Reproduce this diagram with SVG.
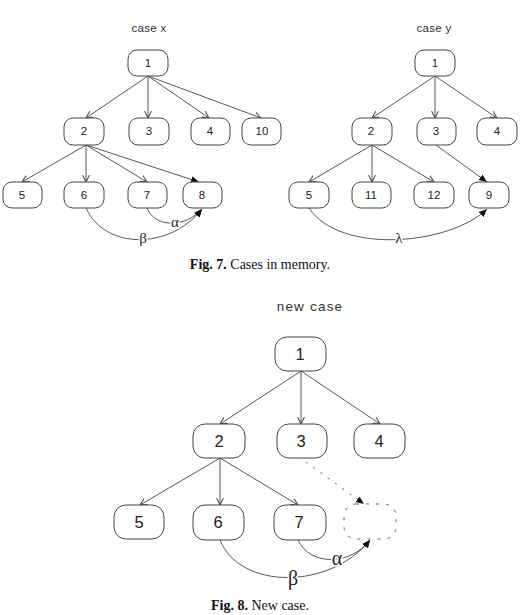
<svg xmlns="http://www.w3.org/2000/svg" width="523" height="615" viewBox="0 0 523 615">
<style>
.n{fill:#fff;stroke:#444;stroke-width:1}
.t{font-family:"Liberation Sans",Arial,sans-serif;font-size:11.5px;fill:#222;text-anchor:middle}
.tb{font-family:"Liberation Sans",Arial,sans-serif;font-size:16.5px;fill:#222;text-anchor:middle}
.e{fill:none;stroke:#444;stroke-width:0.9}
.g{font-family:"Liberation Serif","Times New Roman",serif;fill:#222;text-anchor:middle;stroke:#fff;stroke-width:3;paint-order:stroke}
.cap{font-family:"Liberation Serif","Times New Roman",serif;font-size:14px;fill:#111;text-anchor:middle}
.ttl{font-family:"Liberation Sans",Arial,sans-serif;fill:#333;text-anchor:middle}
</style>
<defs>
<marker id="o" markerUnits="userSpaceOnUse" markerWidth="8" markerHeight="8" refX="6" refY="3" orient="auto" viewBox="0 0 7 6"><path d="M0,0 L6,3 L0,6" fill="none" stroke="#444" stroke-width="0.9"/></marker>
<marker id="f" markerUnits="userSpaceOnUse" markerWidth="8" markerHeight="8" refX="7" refY="3" orient="auto" viewBox="0 0 7 6"><path d="M0,0 L7,3 L0,6 Z" fill="#111"/></marker>
</defs>

<text class="ttl" x="149" y="32" font-size="11.5" letter-spacing="0.3">case x</text>
<text class="ttl" x="434" y="32" font-size="11.5" letter-spacing="0.3">case y</text>
<text class="ttl" x="310" y="311" font-size="13.5" letter-spacing="1.2">new case</text>

<g id="connectors">
<path class="e" d="M148,76 L86,118" marker-end="url(#o)"/>
<path class="e" d="M148,76 L148,118" marker-end="url(#o)"/>
<path class="e" d="M148,76 L209,118" marker-end="url(#o)"/>
<path class="e" d="M148,76 L261,118" marker-end="url(#o)"/>
<path class="e" d="M86,145 L22,182" marker-end="url(#o)"/>
<path class="e" d="M86,145 L86,182" marker-end="url(#o)"/>
<path class="e" d="M86,145 L147,182" marker-end="url(#o)"/>
<path class="e" d="M86,145 L199,182" marker-end="url(#f)"/>
<path class="e" d="M86,208 C105,250 170,250 202,209" marker-end="url(#f)"/>
<path class="e" d="M147,208 C155,228 185,228 202,209" marker-end="url(#f)"/>

<path class="e" d="M435,76 L372,118" marker-end="url(#o)"/>
<path class="e" d="M435,76 L435,118" marker-end="url(#o)"/>
<path class="e" d="M435,76 L497,118" marker-end="url(#o)"/>
<path class="e" d="M372,145 L309,182" marker-end="url(#o)"/>
<path class="e" d="M372,145 L372,182" marker-end="url(#o)"/>
<path class="e" d="M372,145 L434,182" marker-end="url(#o)"/>
<path class="e" d="M436,145 L487,182" marker-end="url(#f)"/>
<path class="e" d="M309,208 C340,255 450,245 487,209" marker-end="url(#f)"/>

<path class="e" d="M301,371 L220,424" marker-end="url(#o)"/>
<path class="e" d="M301,371 L301,424" marker-end="url(#o)"/>
<path class="e" d="M301,371 L380,424" marker-end="url(#o)"/>
<path class="e" d="M220,458 L140,505" marker-end="url(#o)"/>
<path class="e" d="M220,458 L220,505" marker-end="url(#o)"/>
<path class="e" d="M220,458 L298,505" marker-end="url(#o)"/>
<path class="e" d="M306,462 L364,504" stroke-dasharray="2,7" marker-end="url(#f)"/>
<path class="e" d="M220,540 C240,590 330,590 370,540" marker-end="url(#f)"/>
<path class="e" d="M298,540 C310,566 350,566 370,540" marker-end="url(#f)"/>

<text class="g" x="175" y="227" font-size="15">α</text>
<text class="g" x="143" y="243" font-size="15">β</text>
<text class="g" x="399" y="243" font-size="15">λ</text>
<text class="g" x="337" y="565" font-size="20">α</text>
<text class="g" x="293" y="585" font-size="20">β</text>
</g>

<g id="x1"><rect class="n" x="128" y="50" width="40" height="26" rx="9"/><text class="t" x="148" y="67">1</text></g>
<g id="x2"><rect class="n" x="64" y="118" width="40" height="27" rx="9"/><text class="t" x="84" y="135">2</text></g>
<g id="x3"><rect class="n" x="129" y="118" width="40" height="27" rx="9"/><text class="t" x="149" y="135">3</text></g>
<g id="x4"><rect class="n" x="191" y="118" width="39" height="27" rx="9"/><text class="t" x="210" y="135">4</text></g>
<g id="x10"><rect class="n" x="242" y="118" width="39" height="27" rx="9"/><text class="t" x="262" y="135">10</text></g>
<g id="x5"><rect class="n" x="3" y="182" width="39" height="26" rx="9"/><text class="t" x="22" y="199">5</text></g>
<g id="x6"><rect class="n" x="64" y="182" width="40" height="26" rx="9"/><text class="t" x="84" y="199">6</text></g>
<g id="x7"><rect class="n" x="128" y="182" width="39" height="26" rx="9"/><text class="t" x="147" y="199">7</text></g>
<g id="x8"><rect class="n" x="183" y="182" width="39" height="26" rx="9"/><text class="t" x="202" y="199">8</text></g>

<g id="y1"><rect class="n" x="415" y="50" width="40" height="26" rx="9"/><text class="t" x="435" y="67">1</text></g>
<g id="y2"><rect class="n" x="352" y="118" width="40" height="27" rx="9"/><text class="t" x="371" y="135">2</text></g>
<g id="y3"><rect class="n" x="417" y="118" width="39" height="27" rx="9"/><text class="t" x="436" y="135">3</text></g>
<g id="y4"><rect class="n" x="477" y="118" width="40" height="27" rx="9"/><text class="t" x="497" y="135">4</text></g>
<g id="y5"><rect class="n" x="289" y="182" width="40" height="26" rx="9"/><text class="t" x="309" y="199">5</text></g>
<g id="y11"><rect class="n" x="352" y="182" width="39" height="26" rx="9"/><text class="t" x="371" y="199">11</text></g>
<g id="y12"><rect class="n" x="414" y="182" width="40" height="26" rx="9"/><text class="t" x="434" y="199">12</text></g>
<g id="y9"><rect class="n" x="469" y="182" width="40" height="26" rx="9"/><text class="t" x="489" y="199">9</text></g>

<g id="n1"><rect class="n" x="275" y="337" width="51" height="34" rx="12"/><text class="tb" x="300" y="360">1</text></g>
<g id="n2"><rect class="n" x="193" y="424" width="52" height="34" rx="12"/><text class="tb" x="219" y="447">2</text></g>
<g id="n3"><rect class="n" x="277" y="424" width="50" height="34" rx="12"/><text class="tb" x="301" y="447">3</text></g>
<g id="n4"><rect class="n" x="354" y="424" width="51" height="34" rx="12"/><text class="tb" x="379" y="447">4</text></g>
<g id="n5"><rect class="n" x="114" y="505" width="50" height="34" rx="12"/><text class="tb" x="139" y="528">5</text></g>
<g id="n6"><rect class="n" x="193" y="505" width="51" height="35" rx="12"/><text class="tb" x="218" y="528">6</text></g>
<g id="n7"><rect class="n" x="274" y="505" width="52" height="35" rx="12"/><text class="tb" x="299" y="528">7</text></g>
<g id="nq"><rect x="344" y="504" width="52" height="35" rx="12" fill="none" stroke="#555" stroke-width="0.9" stroke-dasharray="3,7"/></g>

<text class="cap" x="260" y="269"><tspan font-weight="bold">Fig. 7.</tspan> Cases in memory.</text>
<text class="cap" x="260" y="610"><tspan font-weight="bold">Fig. 8.</tspan> New case.</text>
</svg>
